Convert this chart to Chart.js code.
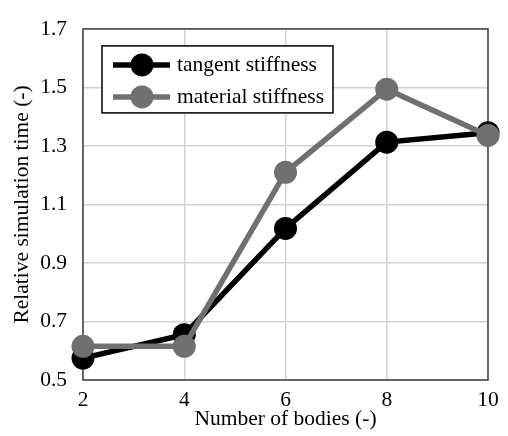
<!DOCTYPE html>
<html>
<head>
<meta charset="utf-8">
<script src="https://cdn.jsdelivr.net/npm/chart.js@4"></script>
<style>
  body { margin: 0; background: #fff; }
</style>
</head>
<body>
<canvas id="myChart" width="508" height="436"></canvas>
<script>
// values
var bodies = ['2', '4', '6', '8', '10'];
var tangentStiffness = [0.575, 0.655, 1.018, 1.313, 1.345];
var materialStiffness = [0.615, 0.615, 1.21, 1.494, 1.336];
var yTicks = [0.5, 0.7, 0.9, 1.1, 1.3, 1.5, 1.7];

var serif = '"Liberation Serif", "Times New Roman", serif';
var black = '#000000';
var grey = '#707070';

// dark frame round the plot area (drawn under the markers)
var plotFrame = {
  id: 'plotFrame',
  beforeDatasetsDraw(chart) {
    var a = chart.chartArea, ctx = chart.ctx;
    ctx.save();
    ctx.strokeStyle = '#404040';
    ctx.lineWidth = 1.5;
    ctx.strokeRect(a.left, a.top, a.right - a.left, a.bottom - a.top);
    ctx.restore();
  }
};

// boxed legend in the top left corner, line + dot like the original
var boxLegend = {
  id: 'boxLegend',
  afterDatasetsDraw(chart) {
    var a = chart.chartArea, ctx = chart.ctx;
    var x0 = a.left + 19, y0 = a.top + 17, w = 231, h = 67;
    ctx.save();
    ctx.fillStyle = '#ffffff';
    ctx.fillRect(x0, y0, w, h);
    ctx.strokeStyle = '#000000';
    ctx.lineWidth = 1.5;
    ctx.strokeRect(x0, y0, w, h);
    chart.data.datasets.forEach(function(ds, i) {
      var cy = y0 + 19 + i * 32;
      ctx.strokeStyle = ds.borderColor;
      ctx.lineWidth = ds.borderWidth;
      ctx.beginPath();
      ctx.moveTo(x0 + 11, cy);
      ctx.lineTo(x0 + 68, cy);
      ctx.stroke();
      ctx.fillStyle = ds.pointBackgroundColor;
      ctx.beginPath();
      ctx.arc(x0 + 40, cy, ds.pointRadius, 0, 2 * Math.PI);
      ctx.fill();
      ctx.fillStyle = '#000000';
      ctx.font = '21.5px ' + serif;
      ctx.textBaseline = 'alphabetic';
      ctx.fillText(ds.label, x0 + 75, cy + 6.5);
    });
    ctx.restore();
  }
};

Chart.defaults.font.family = serif;
Chart.defaults.font.size = 21.5;
Chart.defaults.color = '#000000';

var ctx = document.getElementById('myChart').getContext('2d');
var chart = new Chart(ctx, {
  type: 'line',
  data: {
    labels: bodies,
    datasets: [
      {
        label: 'tangent stiffness',
        data: tangentStiffness,
        borderColor: black,
        backgroundColor: black,
        pointBackgroundColor: black,
        borderWidth: 5.5,
        pointRadius: 11.5,
        pointBorderWidth: 0,
        order: 1,   // grey one sits on top
        clip: false
      },
      {
        label: 'material stiffness',
        data: materialStiffness,
        borderColor: grey,
        backgroundColor: grey,
        pointBackgroundColor: grey,
        borderWidth: 5.5,
        pointRadius: 11.5,
        pointBorderWidth: 0,
        order: 0,
        clip: false
      }
    ]
  },
  options: {
    responsive: false,
    animation: false,
    layout: { padding: { top: 15, right: 20, left: 0, bottom: 0 } },
    plugins: {
      legend: { display: false },
      tooltip: { enabled: false }
    },
    scales: {
      x: {
        type: 'category',
        offset: false,
        grid: { color: '#d2d2d2', lineWidth: 1.5, drawTicks: false },
        border: { display: false },
        ticks: { padding: 7, maxRotation: 0, autoSkip: false },
        title: { display: true, text: 'Number of bodies (-)', padding: { top: 0, bottom: 4 } },
        afterFit: function(axis) { axis.height = 56; }
      },
      y: {
        min: 0.5,
        max: 1.7,
        grid: { color: '#d2d2d2', lineWidth: 1.5, drawTicks: false },
        border: { display: false },
        afterBuildTicks: function(axis) {
          axis.ticks = yTicks.map(function(v) { return { value: v }; });
        },
        ticks: {
          padding: 16,
          callback: function(v) { return Number(v).toFixed(1); }
        },
        title: { display: true, text: 'Relative simulation time (-)', padding: { top: 9, bottom: 0 } },
        afterFit: function(axis) { axis.width = 83; }
      }
    }
  },
  plugins: [plotFrame, boxLegend]
});
</script>
</body>
</html>
